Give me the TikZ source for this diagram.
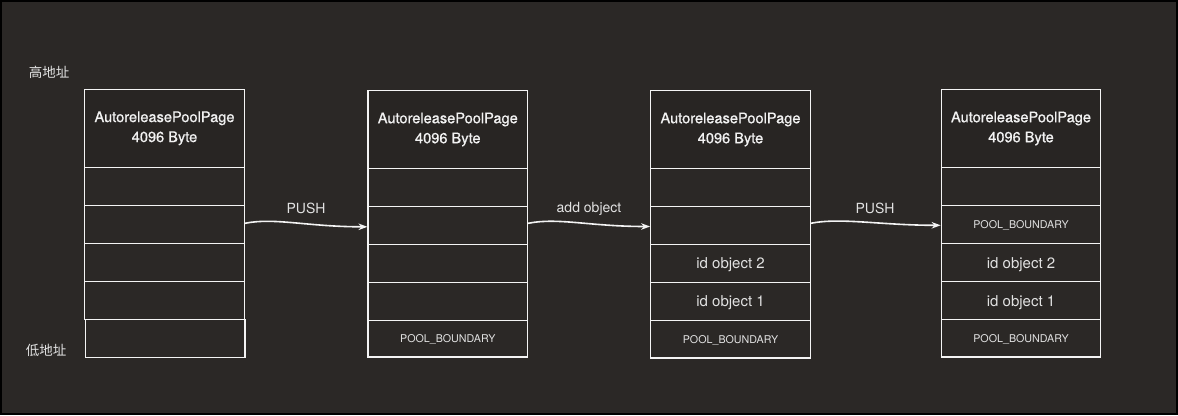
\documentclass[tikz,border=0pt]{standalone}
\usepackage{fontspec}
\setmainfont{TeX Gyre Heros}
\newfontfamily\medfont{TeX Gyre Heros}[FakeBold=0.8]
\newfontfamily\cjk{Noto Sans CJK SC}
\usetikzlibrary{arrows.meta}
\definecolor{bg}{HTML}{2B2826}
\definecolor{hdrfill}{HTML}{282523}
\definecolor{lineclr}{HTML}{F4F4F4}
\definecolor{txtclr}{HTML}{E2E2E2}
\definecolor{hdrtxt}{HTML}{F2F2F2}
\tikzset{
  cell/.style={draw=lineclr, line width=1.2pt, fill=bg, minimum width=159.5pt, minimum height=38pt, inner sep=0pt, text=txtclr, text height=13pt, text depth=2.2pt, font=\fontsize{15}{16}\selectfont},
  hdr/.style={cell, fill=hdrfill, minimum height=77.8pt, text=hdrtxt, align=center, text height=, text depth=, font=\medfont\fontsize{14.6}{20}\selectfont},
  small/.style={font=\fontsize{10.7}{12}\selectfont, text height=9.5pt, text depth=1.8pt},
  conn/.style={draw=lineclr, line width=1.6pt, -{Stealth[length=9pt,width=6.5pt]}},
  lbl/.style={text=txtclr, font=\fontsize{14}{15}\selectfont, inner sep=0pt},
  addr/.style={text=txtclr, font=\cjk\fontsize{13.5}{15}\selectfont, inner sep=0pt}
}
\begin{document}
\begin{tikzpicture}[x=1pt,y=-1pt]
\fill[bg] (0,0) rectangle (1178,415);
\useasboundingbox (0,0) rectangle (1178,415);
\draw[black, line width=2pt] (1,1) rectangle (1177,414);

\node[addr] (hi) at (49,72) {高地址};
\node[addr] (lo) at (46,350) {低地址};

% column 1
\node[hdr] (a0) at (164.5,128.3) {AutoreleasePoolPage\\4096 Byte};
\node[cell] (a1) at (164.5,186.3) {};
\node[cell] (a2) at (164.5,224.3) {};
\node[cell] (a3) at (164.5,262.3) {};
\node[cell] (a4) at (164.5,300.3) {};
\node[cell] (a5) at (165.3,338.3) {};

% column 2
\node[hdr] (b0) at (447.8,129.5) {AutoreleasePoolPage\\4096 Byte};
\node[cell] (b1) at (447.8,187.3) {};
\node[cell] (b2) at (447.8,225.3) {};
\node[cell] (b3) at (447.8,263.3) {};
\node[cell] (b4) at (447.8,301.3) {};
\node[cell,small,minimum height=36.7pt] (b5) at (447.8,338.65) {POOL\_BOUNDARY};

% column 3
\node[hdr] (c0) at (730.5,129.5) {AutoreleasePoolPage\\4096 Byte};
\node[cell] (c1) at (730.5,187.3) {};
\node[cell] (c2) at (730.5,225.3) {};
\node[cell] (c3) at (730.5,263.3) {id object 2};
\node[cell] (c4) at (730.5,301.3) {id object 1};
\node[cell,small,minimum height=37.7pt] (c5) at (730.5,339.15) {POOL\_BOUNDARY};

% column 4
\node[hdr] (d0) at (1021,128.5) {AutoreleasePoolPage\\4096 Byte};
\node[cell] (d1) at (1021,186.5) {};
\node[cell,small] (d2) at (1021,224.7) {POOL\_BOUNDARY};
\node[cell] (d3) at (1021,262.7) {id object 2};
\node[cell] (d4) at (1021,300.7) {id object 1};
\node[cell,small,minimum height=37.3pt] (d5) at (1021,338.35) {POOL\_BOUNDARY};

% connectors
\draw[conn] ([yshift=1pt]a2.east) .. controls +(30,-6) and +(-60,0) .. ([yshift=-1.5pt]b2.west);
\draw[conn] ([yshift=2pt]b2.east) .. controls +(30,-6) and +(-60,0) .. ([yshift=-1.2pt]c2.west);
\draw[conn] ([yshift=2pt]c2.east) .. controls +(30,-6) and +(-60,0) .. ([yshift=-0.6pt]d2.west);

\node[lbl] (l1) at (306,208.5) {PUSH};
\node[lbl] (l2) at (589,208.5) {add object};
\node[lbl] (l3) at (875,208.5) {PUSH};
\end{tikzpicture}
\end{document}
